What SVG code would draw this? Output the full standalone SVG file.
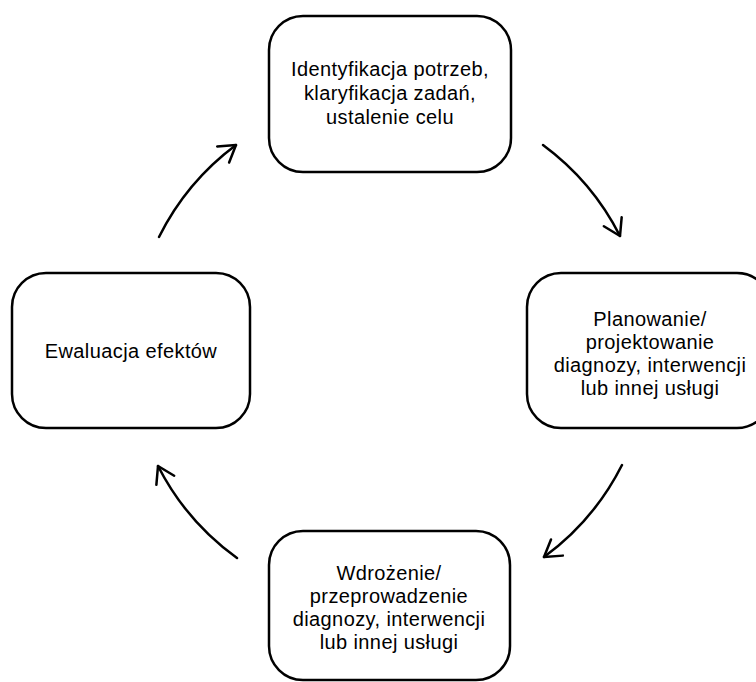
<svg xmlns="http://www.w3.org/2000/svg" width="756" height="682" viewBox="0 0 756 682">
  <style>
    .node { fill: #ffffff; stroke: #000000; stroke-width: 2.5; }
    .label { font-family: "Liberation Sans", Arial, sans-serif; font-size: 20px; letter-spacing: 0.4px; fill: #000000; text-anchor: middle; }
    .conn { fill: none; stroke: #000000; stroke-width: 2.5; stroke-linecap: round; }
  </style>
  <defs>
    <marker id="arrow" markerUnits="userSpaceOnUse" viewBox="-22 -14 26 28" markerWidth="26" markerHeight="28" refX="0" refY="0" orient="auto">
      <path d="M -16 -10 L 0 0 L -16 10" fill="none" stroke="#000000" stroke-width="2.5" stroke-linecap="round" stroke-linejoin="round"/>
    </marker>
  </defs>
  <rect width="756" height="682" fill="#ffffff"/>

  <g id="node-identyfikacja">
    <rect class="node" x="269" y="16" width="242" height="156" rx="34" ry="34"/>
    <text class="label" x="390" y="76">Identyfikacja potrzeb,</text>
    <text class="label" x="390" y="100">klaryfikacja zadań,</text>
    <text class="label" x="390" y="124">ustalenie celu</text>
  </g>

  <g id="node-planowanie">
    <rect class="node" x="527" y="273" width="244" height="155" rx="34" ry="34"/>
    <text class="label" x="650" y="326">Planowanie/</text>
    <text class="label" x="650" y="349">projektowanie</text>
    <text class="label" x="650" y="372">diagnozy, interwencji</text>
    <text class="label" x="650" y="395">lub innej usługi</text>
  </g>

  <g id="node-wdrozenie">
    <rect class="node" x="269" y="531" width="241" height="149" rx="34" ry="34"/>
    <text class="label" x="389" y="580">Wdrożenie/</text>
    <text class="label" x="389" y="603">przeprowadzenie</text>
    <text class="label" x="389" y="626">diagnozy, interwencji</text>
    <text class="label" x="389" y="649">lub innej usługi</text>
  </g>

  <g id="node-ewaluacja">
    <rect class="node" x="12" y="273" width="238" height="155" rx="34" ry="34"/>
    <text class="label" x="131" y="358">Ewaluacja efektów</text>
  </g>

  <g id="connectors">
    <path class="conn" d="M 543 145 A 258 258 0 0 1 620 236" marker-end="url(#arrow)"/>
    <path class="conn" d="M 622 465 A 258 258 0 0 1 544 557" marker-end="url(#arrow)"/>
    <path class="conn" d="M 237 558 A 258 258 0 0 1 158 466" marker-end="url(#arrow)"/>
    <path class="conn" d="M 159 237 A 258 258 0 0 1 236 145" marker-end="url(#arrow)"/>
  </g>
</svg>
